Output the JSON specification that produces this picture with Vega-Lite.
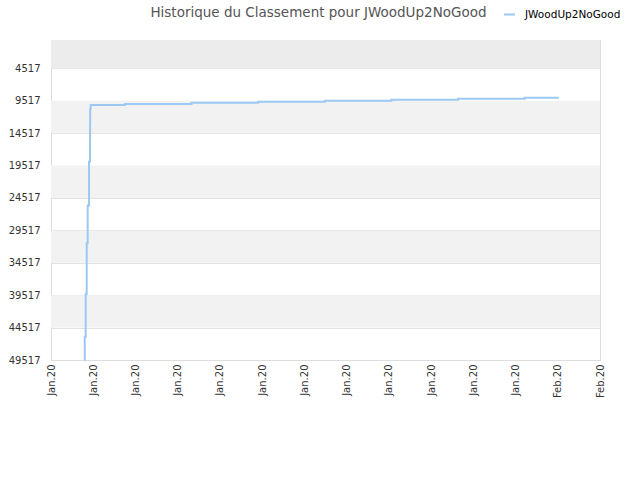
{
  "$schema": "https://vega.github.io/schema/vega-lite/v6.json",
  "width": 549,
  "height": 320,
  "autosize": {"type": "none"},
  "padding": {"left": 51, "top": 40, "right": 40, "bottom": 120},
  "background": "white",
  "title": {
    "text": "Historique du Classement pour JWoodUp2NoGood",
    "font": "DejaVu Sans",
    "fontSize": 13.5,
    "fontWeight": "normal",
    "color": "#555555",
    "offset": -11,
    "dx": -7
  },
  "config": {
    "view": {"stroke": "#dddddd", "strokeWidth": 1},
    "axis": {
      "labelFont": "DejaVu Sans",
      "labelFontSize": 10,
      "labelColor": "#333333",
      "labelOverlap": false,
      "domainColor": "#dddddd",
      "gridColor": "#e2e2e2",
      "ticks": false,
      "title": null
    },
    "legend": {
      "labelFont": "DejaVu Sans",
      "labelFontSize": 10.5,
      "labelColor": "#000000",
      "labelOffset": 9,
      "symbolType": "stroke",
      "symbolStrokeWidth": 2,
      "symbolSize": 120
    }
  },
  "layer": [
    {
      "data": {
        "values": [
          {"from": 9517, "to": 14517},
          {"from": 19517, "to": 24517},
          {"from": 29517, "to": 34517},
          {"from": 39517, "to": 44517}
        ]
      },
      "mark": {"type": "rect", "color": "#f2f2f2"},
      "encoding": {
        "y": {
          "field": "from",
          "type": "quantitative",
          "scale": {"domain": [135, 49517], "reverse": true, "nice": false, "zero": false},
          "axis": {
            "values": [4517, 9517, 14517, 19517, 24517, 29517, 34517, 39517, 44517, 49517],
            "format": "d",
            "labelPadding": 11,
            "labelOverlap": false,
            "labelBound": false,
            "labelFlush": false,
            "grid": true
          }
        },
        "y2": {"field": "to"}
      }
    },
    {
      "data": {"values": [{"from": 135, "to": 4517}]},
      "mark": {"type": "rect", "color": "#ececec"},
      "encoding": {
        "y": {
          "field": "from",
          "type": "quantitative",
          "axis": {
            "values": [4517, 9517, 14517, 19517, 24517, 29517, 34517, 39517, 44517, 49517],
            "format": "d",
            "labelPadding": 11,
            "labelOverlap": false,
            "labelBound": false,
            "labelFlush": false,
            "grid": true
          }
        },
        "y2": {"field": "to"}
      }
    },
    {
      "data": {
        "values": [
          {"series": "JWoodUp2NoGood", "date": "2020-01-25T09:29:00Z", "rank": 49517},
          {"series": "JWoodUp2NoGood", "date": "2020-01-25T09:29:30Z", "rank": 45968},
          {"series": "JWoodUp2NoGood", "date": "2020-01-25T09:50:00Z", "rank": 39332},
          {"series": "JWoodUp2NoGood", "date": "2020-01-25T10:12:00Z", "rank": 31500},
          {"series": "JWoodUp2NoGood", "date": "2020-01-25T10:33:00Z", "rank": 25675},
          {"series": "JWoodUp2NoGood", "date": "2020-01-25T11:02:00Z", "rank": 18915},
          {"series": "JWoodUp2NoGood", "date": "2020-01-25T11:23:00Z", "rank": 15567},
          {"series": "JWoodUp2NoGood", "date": "2020-01-25T11:25:00Z", "rank": 13252},
          {"series": "JWoodUp2NoGood", "date": "2020-01-25T11:27:00Z", "rank": 10783},
          {"series": "JWoodUp2NoGood", "date": "2020-01-25T11:38:00Z", "rank": 10165},
          {"series": "JWoodUp2NoGood", "date": "2020-01-26T00:00:00Z", "rank": 10011},
          {"series": "JWoodUp2NoGood", "date": "2020-01-27T00:00:00Z", "rank": 9826},
          {"series": "JWoodUp2NoGood", "date": "2020-01-28T00:00:00Z", "rank": 9672},
          {"series": "JWoodUp2NoGood", "date": "2020-01-29T00:00:00Z", "rank": 9517},
          {"series": "JWoodUp2NoGood", "date": "2020-01-30T00:00:00Z", "rank": 9363},
          {"series": "JWoodUp2NoGood", "date": "2020-01-31T00:00:00Z", "rank": 9209},
          {"series": "JWoodUp2NoGood", "date": "2020-02-01T00:00:00Z", "rank": 9039},
          {"series": "JWoodUp2NoGood", "date": "2020-02-01T12:20:00Z", "rank": 9039}
        ]
      },
      "mark": {"type": "line", "interpolate": "step-after", "strokeWidth": 2},
      "encoding": {
        "x": {
          "field": "date",
          "type": "temporal",
          "scale": {
            "type": "utc",
            "domain": [
              {"year": 2020, "month": 1, "date": 24, "hours": 21, "minutes": 20, "utc": true},
              {"year": 2020, "month": 2, "date": 2, "hours": 3, "minutes": 9, "utc": true}
            ],
            "nice": false
          },
          "axis": {
            "format": "%b.%y",
            "labelAngle": -90,
            "labelPadding": 4,
            "grid": false,
            "values": [
              {"year": 2020, "month": 1, "date": 24, "hours": 21, "minutes": 20, "utc": true},
              {"year": 2020, "month": 1, "date": 25, "hours": 12, "minutes": 33, "utc": true},
              {"year": 2020, "month": 1, "date": 26, "hours": 3, "minutes": 46, "utc": true},
              {"year": 2020, "month": 1, "date": 26, "hours": 18, "minutes": 59, "utc": true},
              {"year": 2020, "month": 1, "date": 27, "hours": 10, "minutes": 12, "utc": true},
              {"year": 2020, "month": 1, "date": 28, "hours": 1, "minutes": 25, "utc": true},
              {"year": 2020, "month": 1, "date": 28, "hours": 16, "minutes": 38, "utc": true},
              {"year": 2020, "month": 1, "date": 29, "hours": 7, "minutes": 51, "utc": true},
              {"year": 2020, "month": 1, "date": 29, "hours": 23, "minutes": 4, "utc": true},
              {"year": 2020, "month": 1, "date": 30, "hours": 14, "minutes": 17, "utc": true},
              {"year": 2020, "month": 1, "date": 31, "hours": 5, "minutes": 30, "utc": true},
              {"year": 2020, "month": 1, "date": 31, "hours": 20, "minutes": 43, "utc": true},
              {"year": 2020, "month": 2, "date": 1, "hours": 11, "minutes": 56, "utc": true},
              {"year": 2020, "month": 2, "date": 2, "hours": 3, "minutes": 9, "utc": true}
            ]
          }
        },
        "y": {
          "field": "rank",
          "type": "quantitative",
          "axis": {
            "values": [4517, 9517, 14517, 19517, 24517, 29517, 34517, 39517, 44517, 49517],
            "format": "d",
            "labelPadding": 11,
            "labelOverlap": false,
            "labelBound": false,
            "labelFlush": false,
            "grid": true
          }
        },
        "color": {
          "field": "series",
          "type": "nominal",
          "scale": {"range": ["#9cc9f4"]},
          "legend": {"title": null, "orient": "none", "legendX": 452, "legendY": -32}
        }
      }
    }
  ]
}
